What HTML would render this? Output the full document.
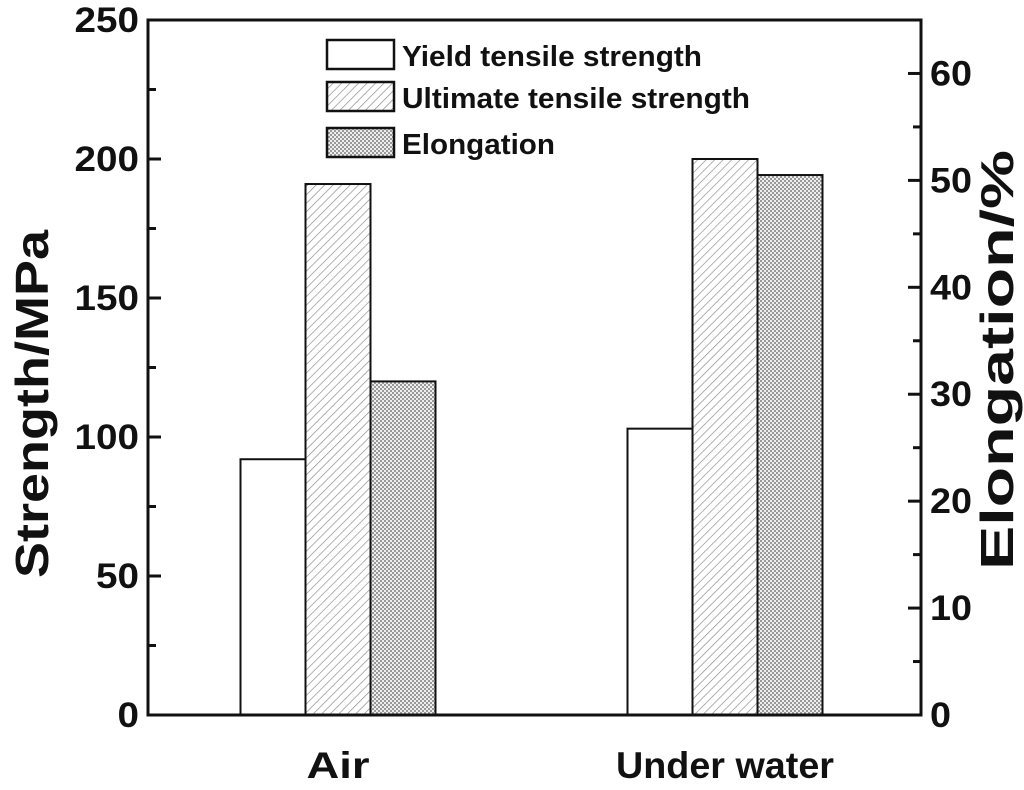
<!DOCTYPE html>
<html><head><meta charset="utf-8"><style>
body{margin:0;background:#fff}
svg text{font-family:"Liberation Sans",Arial,sans-serif;font-weight:bold;fill:#111}
</style></head><body>
<svg id="chart" width="1024" height="785" xmlns="http://www.w3.org/2000/svg">
<defs>
<pattern id="diag" patternUnits="userSpaceOnUse" width="6" height="6" patternTransform="rotate(45)">
<rect width="6" height="6" fill="#fff"/><line x1="0" y1="0" x2="0" y2="6" stroke="#888" stroke-width="1.3"/></pattern>
<pattern id="cross" patternUnits="userSpaceOnUse" width="4" height="4">
<rect width="4" height="4" fill="#eee"/><rect width="2" height="2" fill="#999"/><rect x="2" y="2" width="2" height="2" fill="#999"/></pattern>
</defs>
<g id="marks"></g>
<g id="axes"></g>
</svg>
<script>
const categories=["Air","Under water"];
const yieldVals=[92,103];
const utsVals=[191,200];
const elongVals=[31.2,50.5];
const leftTicks=[0,50,100,150,200,250];
const rightTicks=[0,10,20,30,40,50,60];
const L=148,R=921,T=20,B=715;
const yL=v=>B-(v/250)*(B-T);
const yR=v=>B-(v/65)*(B-T);
const groupCenters=[338,725];
const catLen=[63,218];
const bw=65;
const NS="http://www.w3.org/2000/svg";
const marks=document.getElementById('marks');
const axes=document.getElementById('axes');
function mk(tag,attrs,parent){const e=document.createElementNS(NS,tag);for(const k in attrs)e.setAttribute(k,attrs[k]);parent.appendChild(e);return e;}
categories.forEach((c,i)=>{
  const cx=groupCenters[i];
  const specs=[[yieldVals[i],yL,'#fff','yield'],[utsVals[i],yL,'url(#diag)','uts'],[elongVals[i],yR,'url(#cross)','elongation']];
  specs.forEach((s,j)=>{
    const x=cx-1.5*bw+j*bw, y=s[1](s[0]);
    const r=mk('rect',{x:x,y:y,width:bw,height:B-y,fill:s[2],stroke:'#111','stroke-width':2},marks);
    
    
  });
  const t=mk('text',{x:cx-catLen[i]/2,y:778,'font-size':37,textLength:catLen[i],lengthAdjust:'spacingAndGlyphs'},axes);
  t.textContent=c;
  
  
});
const fr=mk('path',{d:`M${L},${T} H${R} V${B} H${L} Z`,fill:'none',stroke:'#111','stroke-width':3},axes);


for(let v=0;v<=250;v+=25){
  const y=yL(v),major=v%50===0;
  mk('line',{x1:L,x2:L+(major?13:8),y1:y,y2:y,stroke:'#111','stroke-width':3},axes);
}
leftTicks.forEach(v=>{
  const s=String(v),w=21.5*s.length;
  const t=mk('text',{x:L-9-w,y:yL(v)+12,'font-size':35,textLength:w,lengthAdjust:'spacingAndGlyphs'},axes);
  t.textContent=s;
  
  
});
for(let v=0;v<=60;v+=5){
  const y=yR(v),major=v%10===0;
  mk('line',{x1:R,x2:R-(major?13:8),y1:y,y2:y,stroke:'#111','stroke-width':3},axes);
}
rightTicks.forEach(v=>{
  const s=String(v),w=21*s.length;
  const t=mk('text',{x:R+9,y:yR(v)+12,'font-size':35,textLength:w,lengthAdjust:'spacingAndGlyphs'},axes);
  t.textContent=s;
  
  
});
const yt=mk('text',{x:-174,y:0,'font-size':46,textLength:348,lengthAdjust:'spacingAndGlyphs',transform:'translate(48,404) rotate(-90)'},axes);
yt.textContent='Strength/MPa';


const yt2=mk('text',{x:-210,y:0,'font-size':46,textLength:420,lengthAdjust:'spacingAndGlyphs',transform:'translate(1013,360) rotate(-90)'},axes);
yt2.textContent='Elongation/%';


const leg=[['Yield tensile strength','#fff',300],['Ultimate tensile strength','url(#diag)',348],['Elongation','url(#cross)',153]];
const legY=[40,82,128];
const lg=mk('g',{},axes);


leg.forEach((l,i)=>{
  const y=legY[i];
  const r=mk('rect',{x:327,y:y,width:67,height:29,fill:l[1],stroke:'#111','stroke-width':2.5},lg);
  
  
  const t=mk('text',{x:402,y:y+26,'font-size':29,textLength:l[2],lengthAdjust:'spacingAndGlyphs'},lg);
  t.textContent=l[0];
  
  
});
</script>
</body></html>
